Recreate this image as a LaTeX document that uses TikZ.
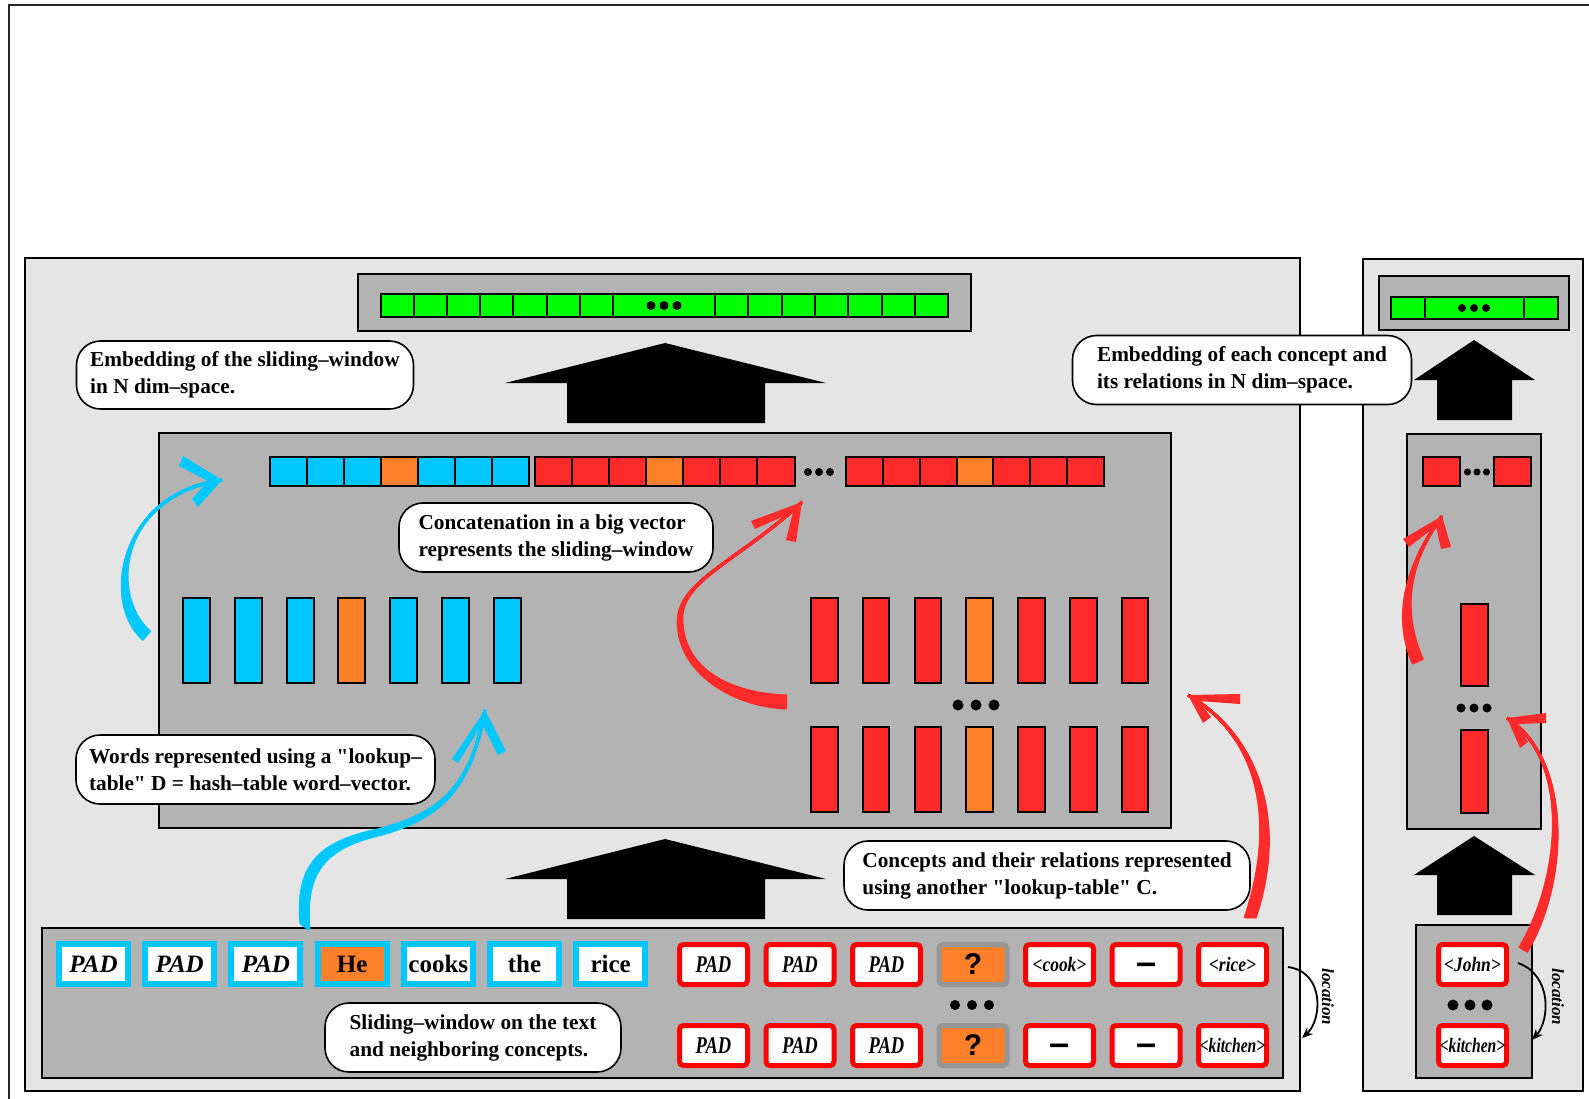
\documentclass[tikz,border=0pt]{standalone}
\usepackage{fontspec}
\setmainfont{Liberation Serif}
\newfontfamily\lsans{Liberation Sans}
\usetikzlibrary{arrows.meta}
\definecolor{cyanC}{RGB}{0,200,255}
\definecolor{redC}{RGB}{255,42,42}
\definecolor{orangeC}{RGB}{255,128,42}
\definecolor{greenC}{RGB}{0,255,0}
\definecolor{panelL}{RGB}{229,229,229}
\definecolor{panelD}{RGB}{179,179,179}
\definecolor{qgray}{RGB}{150,150,150}
\definecolor{pureRed}{RGB}{255,0,0}
\newcommand\cx[2][0.85]{\scalebox{#1}[1]{#2}}
\newcommand\sq{\XeTeXglyph\XeTeXcharglyph"22\relax}
\begin{document}
\begin{tikzpicture}[x=1pt,y=-1pt,
  panelst/.style={draw=black, line width=2pt},
  cellst/.style={draw=black, line width=2pt},
  callout/.style={draw=black, fill=white, line width=1.6pt, rounded corners=24pt, align=left, inner sep=0pt, font=\fontsize{21.3}{27}\selectfont\bfseries},
  wordbox/.style={draw=cyanC, fill=white, line width=6pt, minimum width=69pt, minimum height=40pt, inner sep=0pt, text height=17pt, text depth=0pt, font=\fontsize{25}{25}\selectfont\bfseries},
  conbox/.style={draw=pureRed, fill=white, line width=5pt, rounded corners=4pt, minimum width=68pt, minimum height=40pt, inner sep=0pt, font=\fontsize{20.5}{20.5}\selectfont\bfseries\itshape},
  padbox/.style={conbox, text height=16pt, text depth=0pt, font=\fontsize{24}{24}\selectfont\bfseries\itshape},
  qbox/.style={conbox, draw=qgray, fill=orangeC, font=\lsans\bfseries\fontsize{30}{30}\selectfont},
  dashbox/.style={conbox, text height=0pt, text depth=0pt, font=\lsans\bfseries\fontsize{36}{36}\selectfont},
  loclabel/.style={rotate=-90, inner sep=0pt, font=\fontsize{17}{17}\selectfont\bfseries\itshape},
  locarrow/.style={draw=black, line width=1.8pt, -{Stealth[length=11pt,width=9pt]}},
  brush/.style={line width=3pt}
]
\useasboundingbox (0,0) rectangle (1589,1098);
\fill[white] (0,0) rectangle (1589,1098);
% outer frame
\draw[line width=2pt, black!85] (9,1102) -- (9,5) -- (1592,5);
% panels
\draw[line width=1.5pt, fill=panelL] (25,258) rectangle (1300,1091);
\draw[line width=1.5pt, fill=panelL] (1363,259) rectangle (1583,1091);
\draw[panelst, fill=panelD] (358,274) rectangle (971,331);
\draw[panelst, fill=panelD] (1379,276) rectangle (1569,330);
\draw[panelst, fill=panelD] (159,433) rectangle (1171,828);
\draw[panelst, fill=panelD] (1407,434) rectangle (1541,829);
\draw[panelst, fill=panelD] (42,928) rectangle (1283,1078);
\draw[panelst, fill=panelD] (1416,925) rectangle (1532,1078);
% big arrows
\fill (665,343) -- (826,383) -- (765,383) -- (765,423) -- (567,423) -- (567,383) -- (505,383) -- cycle;
\fill (665,839) -- (826,879) -- (765,879) -- (765,919) -- (567,919) -- (567,879) -- (505,879) -- cycle;
\fill (1474,340) -- (1535,380) -- (1512,380) -- (1512,420) -- (1437,420) -- (1437,380) -- (1414,380) -- cycle;
\fill (1474,836) -- (1535,875) -- (1512,875) -- (1512,915) -- (1437,915) -- (1437,875) -- (1414,875) -- cycle;
% green vector
\foreach \i in {0,...,6} \draw[cellst, fill=greenC] ({381+33.1*\i},294) rectangle ++(33.1,23);
\draw[cellst, fill=greenC] (612.7,294) rectangle (715,317);
\foreach \i in {0,...,6} \draw[cellst, fill=greenC] ({715+33.3*\i},294) rectangle ++(33.3,23);
\foreach \k in {-1,0,1} \fill ({664+13*\k},305.5) circle[radius=4.5pt];
\draw[cellst, fill=greenC] (1391,297) rectangle (1425,319);
\draw[cellst, fill=greenC] (1425,297) rectangle (1524,319);
\draw[cellst, fill=greenC] (1524,297) rectangle (1558,319);
\foreach \k in {-1,0,1} \fill ({1474+12*\k},308) circle[radius=4pt];
% concatenated vector
\foreach \i/\c in {0/cyanC,1/cyanC,2/cyanC,3/orangeC,4/cyanC,5/cyanC,6/cyanC}
  \draw[cellst, fill=\c] ({270+37*\i},457) rectangle ++(37,29);
\foreach \i/\c in {0/redC,1/redC,2/redC,3/orangeC,4/redC,5/redC,6/redC}
  \draw[cellst, fill=\c] ({535+37.07*\i},457) rectangle ++(37.07,29);
\foreach \i/\c in {0/redC,1/redC,2/redC,3/orangeC,4/redC,5/redC,6/redC}
  \draw[cellst, fill=\c] ({846+36.86*\i},457) rectangle ++(36.86,29);
\foreach \k in {-1,0,1} \fill ({819+11*\k},472) circle[radius=4pt];
% word vectors
\foreach \i/\c in {0/cyanC,1/cyanC,2/cyanC,3/orangeC,4/cyanC,5/cyanC,6/cyanC}
  \draw[cellst, fill=\c] ({183+51.8*\i},598) rectangle ++(27,85);
% concept vectors
\foreach \i/\c in {0/redC,1/redC,2/redC,3/orangeC,4/redC,5/redC,6/redC}{
  \draw[cellst, fill=\c] ({811+51.8*\i},598) rectangle ++(26.5,85);
  \draw[cellst, fill=\c] ({811+51.8*\i},727) rectangle ++(26.5,85);}
\foreach \k in {-1,0,1} \fill ({976+18*\k},705) circle[radius=5.5pt];
% right panel vectors
\draw[cellst, fill=redC] (1423,457) rectangle (1460,486);
\draw[cellst, fill=redC] (1494,457) rectangle (1531,486);
\foreach \k in {-1,0,1} \fill ({1477+9.5*\k},472) circle[radius=3.5pt];
\draw[cellst, fill=redC] (1461,604) rectangle (1488,686);
\draw[cellst, fill=redC] (1461,730) rectangle (1488,813);
\foreach \k in {-1,0,1} \fill ({1474+13*\k},708) circle[radius=4.5pt];
% callouts
\node[callout, minimum width=337pt, minimum height=68pt] (c1) at (245,375) {Embedding of the sliding–window\\in N dim–space.};
\node[callout, minimum width=314pt, minimum height=69pt] (c2) at (556,537.5) {Concatenation in a big vector\\represents the sliding–window};
\node[callout, minimum width=339pt, minimum height=69pt] (c3) at (1242,370) {Embedding of each concept and\\its relations in N dim–space.};
\node[callout, minimum width=359pt, minimum height=69pt] (c4) at (255.5,769.5) {Words represented using a \sq lookup–\\table\sq{} D = hash–table word–vector.};
\node[callout, minimum width=406pt, minimum height=69pt] (c5) at (1047,875.5) {Concepts and their relations represented\\using another \sq lookup-table\sq{} C.};
\node[callout, minimum width=296pt, minimum height=69pt] (c6) at (473,1037.5) {Sliding–window on the text\\and neighboring concepts.};
% word boxes
\node[wordbox] (w1) at (93.5,964) {\textit{PAD}};
\node[wordbox] (w2) at (179.7,964) {\textit{PAD}};
\node[wordbox] (w3) at (265.9,964) {\textit{PAD}};
\node[wordbox, fill=orangeC] (w4) at (352.1,964) {He};
\node[wordbox] (w5) at (438.3,964) {cooks};
\node[wordbox] (w6) at (524.5,964) {the};
\node[wordbox] (w7) at (610.7,964) {rice};
% concept boxes
\node[padbox] (k11) at (713.5,964.5) {\cx[0.77]{PAD}};
\node[padbox] (k12) at (800,964.5) {\cx[0.77]{PAD}};
\node[padbox] (k13) at (886.5,964.5) {\cx[0.77]{PAD}};
\node[qbox] (k14) at (973,964.5) {?};
\node[conbox] (k15) at (1059.5,964.5) {\cx{<cook>}};
\node[dashbox] (k16) at (1146,964.5) {\raisebox{-9.7pt}{–}};
\node[conbox] (k17) at (1232.5,964.5) {\cx{<rice>}};
\node[padbox] (k21) at (713.5,1045.5) {\cx[0.77]{PAD}};
\node[padbox] (k22) at (800,1045.5) {\cx[0.77]{PAD}};
\node[padbox] (k23) at (886.5,1045.5) {\cx[0.77]{PAD}};
\node[qbox] (k24) at (973,1045.5) {?};
\node[dashbox] (k25) at (1059.5,1045.5) {\raisebox{-9.7pt}{–}};
\node[dashbox] (k26) at (1146,1045.5) {\raisebox{-9.7pt}{–}};
\node[conbox] (k27) at (1232.5,1045.5) {\cx[0.76]{<kitchen>}};
\foreach \k in {-1,0,1} \fill ({972+17*\k},1005) circle[radius=5pt];
\node[conbox] (john) at (1472.5,964.5) {\cx{<John>}};
\node[conbox] (kit2) at (1472.5,1045.5) {\cx[0.76]{<kitchen>}};
\foreach \k in {-1,0,1} \fill ({1470+17*\k},1005) circle[radius=5.5pt];
% location arrows
\coordinate (la1) at (1288,967); \coordinate (la2) at (1302,1038);
\draw[locarrow] (la1) .. controls (1325,972) and (1322,1020) .. (la2);
\node[loclabel] (loc1) at (1328,997) {location};
\coordinate (lb1) at (1518,963); \coordinate (lb2) at (1532,1040);
\draw[locarrow] (lb1) .. controls (1552,975) and (1550,1020) .. (lb2);
\node[loclabel] (loc2) at (1558,997) {location};
% blue arrow A
\coordinate (bAt) at (147,636); \coordinate (bAh) at (222,480);
\foreach \s in {-5,...,5}
  \draw[brush, cyanC] ([shift={({0.65*\s},{-0.76*\s})}]bAt) .. controls ({105+0.65*\s},{600-0.76*\s}) and (118,495) .. (bAh);
\fill[cyanC] (bAh) -- (183,456) -- (179,466) -- (208,481) -- (192,499) -- (198,507) -- cycle;
% blue arrow B
\coordinate (bBt) at (305,927); \coordinate (bBh) at (485,710);
\foreach \s in {-5,...,5}
  \draw[brush, cyanC] ([shift={({0.8*\s},{0.6*\s})}]bBt) .. controls ({300+0.8*\s},{870+0.6*\s}) and ({320+0.6*\s},{845+0.45*\s}) .. ({380+0.5*\s},{832+0.4*\s}) .. controls ({440+0.3*\s},{815+0.25*\s}) and (470,790) .. (bBh);
\fill[cyanC] (bBh) -- (452,759) -- (458,763) -- (482,724) -- (498,755) -- (506,751) -- cycle;
% red arrow A
\coordinate (rAt) at (787,702); \coordinate (rAh) at (802,502);
\foreach \s in {-6,...,6}
  \draw[brush, redC] ([shift={(0,{-\s})}]rAt) .. controls (730,{700-\s}) and ({680+0.5*\s},670) .. ({680+0.3*\s},620) .. controls (680,580) and (740,560) .. (rAh);
\fill[redC] (rAh) -- (751,521) -- (755,529) -- (793,512) -- (786,540) -- (796,542) -- cycle;
% red arrow B
\coordinate (rBt) at (1250,918); \coordinate (rBh) at (1188,695);
\foreach \s in {-5,...,5}
  \draw[brush, redC] ([shift={(\s,0)}]rBt) .. controls ({1280+\s},830) and (1265,740) .. (rBh);
\fill[redC] (rBh) -- (1240,694) -- (1240,704) -- (1199,701) -- (1211,717) -- (1203,723) -- cycle;
% red arrow C
\coordinate (rCt) at (1418,662); \coordinate (rCh) at (1442,516);
\foreach \s in {-5,...,5}
  \draw[brush, redC] ([shift={({0.91*\s},{-0.4*\s})}]rCt) .. controls ({1395+0.91*\s},{610-0.4*\s}) and (1410,560) .. (rCh);
\fill[redC] (rCh) -- (1403,539) -- (1409,547) -- (1436,526) -- (1441,549) -- (1451,547) -- cycle;
% red arrow D
\coordinate (rDt) at (1523,950); \coordinate (rDh) at (1507,718);
\foreach \s in {-4,...,4}
  \draw[brush, redC] ([shift={({0.86*\s},{0.51*\s})}]rDt) .. controls ({1565+0.86*\s},{880+0.51*\s}) and (1572,760) .. (rDh);
\fill[redC] (rDh) -- (1546,713) -- (1546,723) -- (1517,724) -- (1528,742) -- (1520,748) -- cycle;
\end{tikzpicture}
\end{document}
